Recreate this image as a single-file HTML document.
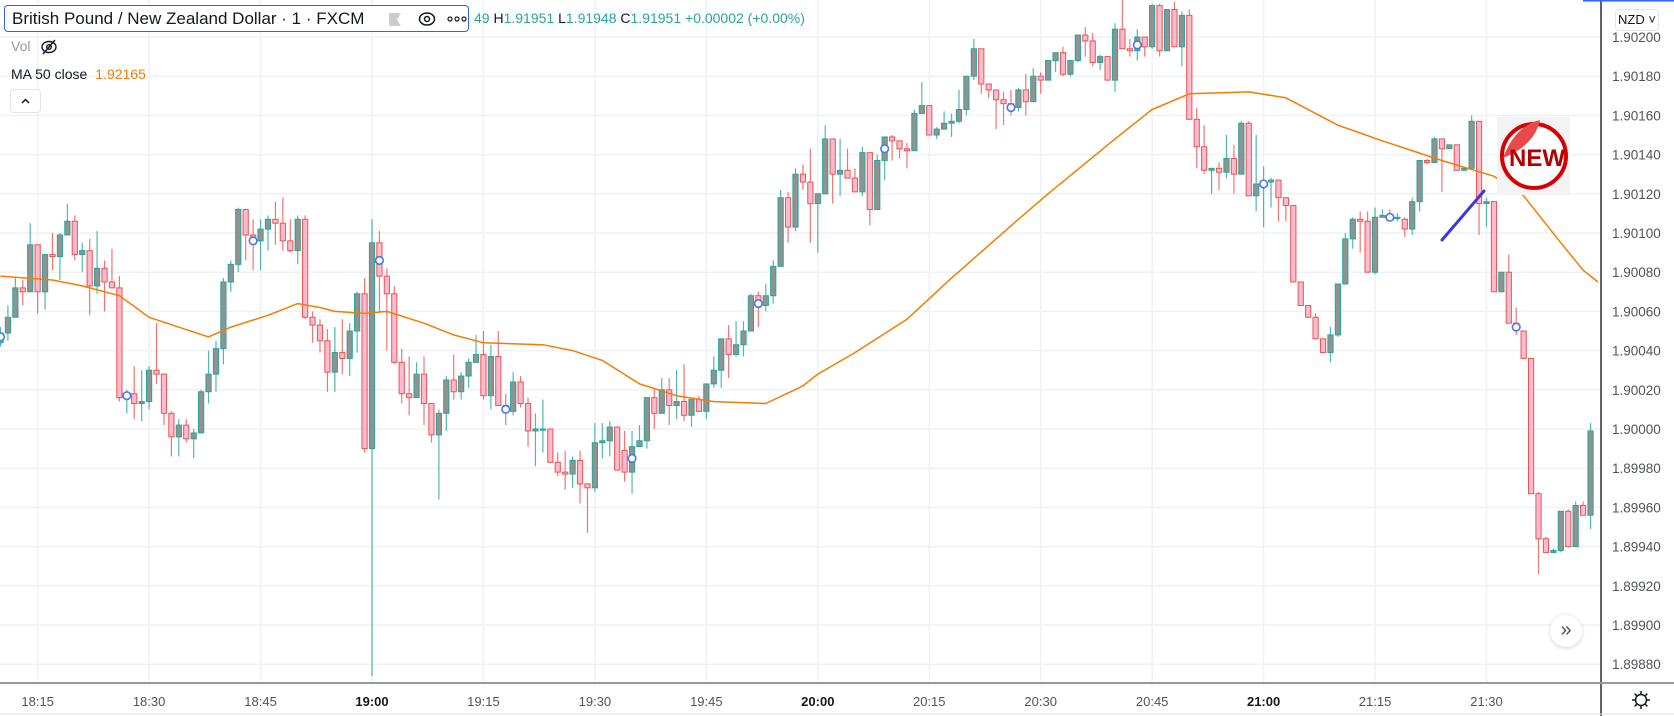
<!DOCTYPE html>
<html><head><meta charset="utf-8">
<style>
html,body{margin:0;padding:0;background:#fff;}
#root{position:relative;width:1674px;height:716px;overflow:hidden;font-family:"Liberation Sans",sans-serif;background:#fff;}
#chart{position:absolute;left:0;top:0;}
.legend-box{position:absolute;left:4px;top:5px;width:465px;height:27px;border:1px solid #2962ff;border-radius:4px;background:#fff;box-sizing:border-box;}
.title{position:absolute;left:7px;top:3px;font-size:17px;color:#131722;white-space:nowrap;}
.ohlc{position:absolute;left:474px;top:10px;font-size:14px;color:#26a69a;white-space:nowrap;}
.ohlc b{font-weight:normal;color:#131722;}
.vol{position:absolute;left:11px;top:38px;font-size:14px;color:#9598a1;}
.ma{position:absolute;left:11px;top:66px;font-size:14px;color:#131722;white-space:nowrap;}
.ma span{color:#f57c00;margin-left:8px;}
.collapse{position:absolute;left:10px;top:89px;width:31px;height:24px;border:1px solid #e0e3eb;border-radius:4px;box-sizing:border-box;background:#fff;}
.nzd{position:absolute;left:1615px;top:9px;width:44px;height:22px;border:1px solid #e0e3eb;border-radius:4px;box-sizing:border-box;font-size:13px;color:#131722;text-align:center;line-height:20px;background:#fff;}
.more{position:absolute;left:1550px;top:615px;width:32px;height:32px;border-radius:50%;background:#fff;box-shadow:0 1px 4px rgba(0,0,0,0.18);font-size:20px;color:#50535e;text-align:center;line-height:30px;}
</style></head>
<body>
<div id="root">
<svg id="chart" width="1674" height="716"></svg>

<div class="legend-box">
  <div class="title">British Pound / New Zealand Dollar · 1 · FXCM</div>
  <svg style="position:absolute;left:384px;top:7px" width="12" height="13"><path d="M0 0H12L8 6.5L12 13H0Z" fill="#c9cbd1"/></svg>
  <svg style="position:absolute;left:413px;top:5px" width="18" height="16"><ellipse cx="9" cy="8" rx="7.5" ry="6" fill="none" stroke="#131722" stroke-width="1.5"/><circle cx="9" cy="8" r="2.5" fill="none" stroke="#131722" stroke-width="1.5"/></svg>
  <svg style="position:absolute;left:442px;top:9px" width="20" height="8"><circle cx="3" cy="4" r="2" fill="none" stroke="#131722" stroke-width="1.2"/><circle cx="10" cy="4" r="2" fill="none" stroke="#131722" stroke-width="1.2"/><circle cx="17" cy="4" r="2" fill="none" stroke="#131722" stroke-width="1.2"/></svg>
</div>
<div class="ohlc">49 <b>H</b>1.91951 <b>L</b>1.91948 <b>C</b>1.91951 +0.00002 (+0.00%)</div>
<div class="vol">Vol</div>
<svg style="position:absolute;left:40px;top:38px" width="18" height="18"><ellipse cx="9" cy="9" rx="7" ry="5.5" fill="none" stroke="#131722" stroke-width="1.4"/><circle cx="9" cy="9" r="2.3" fill="none" stroke="#131722" stroke-width="1.4"/><line x1="3" y1="16" x2="15" y2="2" stroke="#131722" stroke-width="1.4"/></svg>
<div class="ma">MA 50 close<span>1.92165</span></div>
<div class="collapse"><svg width="29" height="22"><path d="M11 13L14.5 9.5L18 13" fill="none" stroke="#131722" stroke-width="1.5"/></svg></div>
<div class="nzd">NZD ˅</div>
<div class="more">»</div>
<svg style="position:absolute;left:1631px;top:690px" width="20" height="20"><circle cx="10" cy="10" r="5.5" fill="none" stroke="#131722" stroke-width="1.5"/><g stroke="#131722" stroke-width="1.5"><line x1="10" y1="1" x2="10" y2="4"/><line x1="10" y1="16" x2="10" y2="19"/><line x1="1" y1="10" x2="4" y2="10"/><line x1="16" y1="10" x2="19" y2="10"/><line x1="3.6" y1="3.6" x2="5.7" y2="5.7"/><line x1="14.3" y1="14.3" x2="16.4" y2="16.4"/><line x1="3.6" y1="16.4" x2="5.7" y2="14.3"/><line x1="14.3" y1="5.7" x2="16.4" y2="3.6"/></g></svg>
</div>

<script>
// Prices in units of 0.00001 (e.g. 190044 = 1.90044)
const opens=[190044,190049,190057,190072,190070,190094,190070,190089,190088,190099,190106,190089,190091,190073,190082,190075,190072,190016,190018,190013,190014,190030,190028,190008,189996,190002,189995,189998,190019,190028,190041,190075,190084,190112,190099,190096,190102,190107,190105,190096,190091,190107,190057,190053,190045,190029,190039,190036,190050,190069,189990,190095,190078,190069,190034,190018,190016,190028,190013,189997,190008,190025,190019,190027,190034,190038,190017,190037,190012,190009,190024,190013,189999,190000,190000,189983,189978,189977,189984,189972,189970,189993,189994,190001,189989,189978,189991,189994,190016,190008,190020,190012,190014,190007,190015,190009,190023,190030,190046,190038,190043,190050,190068,190063,190068,190083,190118,190103,190130,190126,190115,190120,190148,190130,190132,190128,190121,190141,190112,190137,190149,190147,190143,190142,190161,190165,190150,190153,190156,190157,190163,190180,190194,190176,190173,190168,190166,190164,190173,190167,190180,190178,190188,190192,190181,190188,190201,190198,190187,190190,190178,190204,190194,190193,190200,190195,190216,190193,190214,190195,190211,190158,190144,190132,190133,190131,190138,190130,190156,190119,190125,190126,190127,190118,190114,190075,190063,190057,190046,190039,190048,190074,190097,190107,190106,190080,190108,190109,190108,190107,190102,190116,190137,190136,190148,190143,190145,190132,190133,190157,190115,190116,190070,190080,190054,190050,190036,189967,189944,189937,189938,189958,189940,189961,189956];
const highs=[190052,190063,190077,190076,190105,190094,190089,190100,190100,190115,190109,190095,190097,190101,190086,190092,190078,190020,190032,190030,190032,190054,190028,190009,190005,190005,190000,190020,190040,190045,190077,190086,190113,190112,190107,190107,190109,190116,190118,190107,190109,190109,190060,190056,190051,190052,190056,190054,190070,190077,190107,190101,190082,190073,190041,190037,190034,190037,190013,190010,190027,190038,190029,190036,190048,190050,190043,190050,190018,190029,190027,190016,190008,190015,190000,189988,189989,189986,189989,189972,190003,190003,190004,190001,189999,189999,190002,190016,190020,190026,190026,190030,190033,190015,190017,190023,190037,190046,190053,190055,190055,190069,190070,190074,190086,190122,190121,190133,190135,190143,190120,190155,190148,190148,190143,190133,190144,190141,190140,190149,190150,190147,190146,190163,190177,190165,190154,190162,190161,190173,190180,190199,190194,190176,190173,190172,190173,190174,190181,190184,190182,190188,190192,190195,190188,190201,190205,190202,190191,190190,190207,190219,190199,190204,190200,190217,190217,190214,190218,190213,190214,190164,190155,190133,190136,190150,190145,190157,190157,190150,190134,190128,190127,190118,190114,190075,190063,190059,190046,190052,190074,190100,190108,190111,190111,190113,190112,190112,190110,190108,190118,190137,190138,190149,190148,190145,190145,190133,190160,190157,190118,190116,190080,190089,190062,190050,190036,189968,189945,189939,189958,189959,189963,189963,190003];
const lows=[190042,190045,190057,190063,190070,190059,190061,190081,190076,190099,190086,190080,190058,190069,190060,190072,190014,190008,190005,190004,190010,190023,190002,189986,189986,189993,189985,189998,190013,190019,190033,190070,190080,190086,190081,190081,190091,190094,190091,190090,190084,190056,190044,190039,190019,190019,190028,190027,190039,189988,189874,190060,190040,190033,190013,190007,190016,190002,189993,189964,189999,190015,190015,190021,190034,190015,190010,190012,190002,190007,190011,189991,189981,189988,189983,189976,189969,189970,189962,189947,189968,189985,189986,189979,189973,189967,189991,189990,190000,190008,190002,190005,190004,190001,190009,190005,190021,190021,190026,190037,190037,190050,190052,190060,190064,190083,190095,190101,190122,190095,190090,190120,190115,190119,190128,190121,190119,190104,190112,190127,190137,190138,190133,190142,190161,190150,190148,190153,190149,190156,190160,190178,190171,190169,190153,190155,190160,190162,190160,190167,190171,190178,190182,190180,190180,190187,190190,190185,190183,190178,190172,190194,190190,190188,190190,190194,190190,190193,190195,190185,190158,190133,190130,190120,190122,190128,190120,190130,190119,190111,190103,190113,190106,190106,190075,190063,190057,190046,190039,190034,190047,190074,190092,190090,190080,190079,190108,190106,190106,190098,190099,190111,190135,190136,190121,190143,190132,190132,190132,190099,190103,190070,190070,190054,190048,190036,189967,189926,189937,189937,189937,189940,189940,189956,189949];
const closes=[190049,190057,190072,190070,190094,190070,190089,190088,190099,190106,190089,190091,190073,190082,190075,190072,190016,190017,190013,190014,190030,190028,190008,189996,190002,189995,189998,190019,190028,190041,190075,190084,190112,190099,190096,190102,190107,190105,190096,190091,190107,190057,190053,190045,190029,190039,190036,190050,190069,189990,190095,190078,190069,190034,190018,190016,190028,190013,189997,190008,190025,190019,190027,190034,190038,190017,190037,190012,190009,190024,190013,189999,190000,190000,189983,189978,189977,189984,189972,189970,189993,189994,190001,189979,189978,189991,189994,190016,190008,190020,190012,190014,190007,190015,190009,190023,190030,190046,190038,190043,190050,190068,190063,190068,190083,190118,190103,190130,190126,190115,190120,190148,190130,190132,190128,190121,190141,190112,190137,190149,190147,190143,190142,190161,190165,190150,190153,190156,190157,190163,190180,190194,190176,190173,190168,190166,190164,190173,190167,190180,190178,190188,190192,190181,190188,190201,190198,190187,190190,190178,190204,190194,190193,190200,190195,190216,190193,190214,190195,190211,190158,190144,190132,190133,190131,190138,190130,190156,190119,190125,190126,190127,190118,190114,190075,190063,190057,190046,190039,190048,190074,190097,190107,190106,190080,190108,190109,190108,190108,190102,190116,190137,190136,190148,190143,190145,190132,190133,190157,190115,190116,190070,190080,190054,190052,190036,189967,189944,189937,189938,189958,189940,189961,189956,189999];
// 50-period moving average (sampled by bar index)
const maIndex=[0,7,11,16,20,28,31,36,40,43,45,49,52,57,61,65,73,77,81,86,91,96,103,108,110,115,122,128,137,141,150,155,160,168,173,180,183,186,194,201,205,210,213,215];
const maValues=[190078,190076,190073,190068,190057,190047,190052,190058,190064,190062,190060,190059,190060,190054,190048,190044,190043,190040,190035,190023,190017,190014,190013,190022,190028,190039,190056,190077,190107,190120,190148,190163,190171,190172,190169,190155,190151,190147,190137,190129,190119,190095,190081,190075];
// blue hollow marker points
const markerIndex=[0,17,34,51,68,85,102,119,136,153,170,187,204];
const markerValues=[190047,190017,190096,190086,190010,189985,190064,190143,190164,190196,190125,190108,190052];
// axis ticks
const priceTicks=[190200,190180,190160,190140,190120,190100,190080,190060,190040,190020,190000,189980,189960,189940,189920,189900,189880];
const timeTickIndex=[5,20,35,50,65,80,95,110,125,140,155,170,185,200];
const timeTickLabels=["18:15","18:30","18:45","19:00","19:15","19:30","19:45","20:00","20:15","20:30","20:45","21:00","21:15","21:30"];
const timeTickBold=[false,false,false,true,false,false,false,true,false,false,false,true,false,false];

const NS="http://www.w3.org/2000/svg";
const svg=document.getElementById('chart');
const PLOT_R=1601, PLOT_B=683;
function xScale(i){return i*7.43+0.5;}
function yScale(p){return 37+(190200-p)*1.96;}
function mk(tag,attrs,parent){const e=document.createElementNS(NS,tag);for(const k in attrs)e.setAttribute(k,attrs[k]);(parent||svg).appendChild(e);return e;}

// grid
const grid=mk('g',{});


priceTicks.forEach(p=>{const l=mk('line',{x1:0,x2:PLOT_R,y1:yScale(p),y2:yScale(p),stroke:'#eef1f6','stroke-width':1.5},grid);

});
timeTickIndex.forEach(i=>{const l=mk('line',{x1:xScale(i),x2:xScale(i),y1:0,y2:PLOT_B,stroke:'#eef1f6','stroke-width':1.5},grid);

});

// candles
const cg=mk('g',{});


for(let i=0;i<closes.length;i++){
  const o=opens[i],c=closes[i],h=highs[i],l=lows[i];
  const up=c>=o;
  const x=xScale(i);
  const g=mk('g',{},cg);
  
  
  mk('line',{x1:x,x2:x,y1:yScale(h),y2:yScale(l),stroke:up?'#26a69a':'#ef5350','stroke-width':1.2,'stroke-opacity':0.8},g);
  const top=yScale(Math.max(o,c)),bot=yScale(Math.min(o,c));
  mk('rect',{x:x-2.6,y:top,width:5.2,height:Math.max(bot-top,1.2),fill:up?'#929292':'#f8bbd0',stroke:up?'#26a69a':'#ef5350','stroke-width':1},g);
}

// moving average
let pts=maIndex.map((k,j)=>xScale(k).toFixed(1)+','+yScale(maValues[j]).toFixed(1)).join(' ');
const ma=mk('polyline',{points:pts,fill:'none',stroke:'#f57c00','stroke-width':1.5,'stroke-linejoin':'round'});



// markers
markerIndex.forEach((k,j)=>{const c=mk('circle',{cx:xScale(k),cy:yScale(markerValues[j]),r:3.8,fill:'#fff',stroke:'#4a78f0','stroke-width':1.6});

});

// drawn trend line
const tl=mk('line',{x1:1442,y1:240,x2:1484,y2:191,stroke:'#3b3bd4','stroke-width':3,'stroke-linecap':'round'});



// NEW sticker
const st=mk('g',{});


mk('rect',{x:1497,y:117,width:73,height:78,fill:'#f3f3f3'},st);
mk('circle',{cx:1534,cy:156,r:32,fill:'#fff',stroke:'#d60000','stroke-width':4},st);
mk('path',{d:'M1503 158 Q1515 126 1540 120 Q1535 145 1503 158Z',fill:'#e84a4a'},st);
const nt=mk('text',{x:1537,y:166,'font-size':24,'font-weight':'bold','font-family':'Liberation Sans, sans-serif',fill:'#b30000','text-anchor':'middle'},st);
nt.textContent='NEW';

// axes
mk('rect',{x:PLOT_R,y:0,width:73,height:716,fill:'#fff'});
mk('rect',{x:0,y:PLOT_B,width:1674,height:33,fill:'#fff'});
const ax1=mk('line',{x1:PLOT_R,x2:PLOT_R,y1:0,y2:716,stroke:'#2a2e39','stroke-width':1.5});


const ax2=mk('line',{x1:0,x2:1674,y1:PLOT_B,y2:PLOT_B,stroke:'#9598a1','stroke-width':2});


mk('line',{x1:0,x2:1674,y1:714,y2:714,stroke:'#e0e3eb','stroke-width':1});
mk('line',{x1:1583,x2:1674,y1:0.5,y2:0.5,stroke:'#2962ff','stroke-width':2});

const pa=mk('g',{});


priceTicks.forEach(p=>{const t=mk('text',{x:1612,y:yScale(p)+5,'font-size':13.5,'font-family':'Liberation Sans, sans-serif',fill:'#50535e'},pa);


t.textContent=(p/100000).toFixed(5);});

const ta=mk('g',{});


timeTickIndex.forEach((k,j)=>{const t=mk('text',{x:xScale(k),y:706,'font-size':13,'font-family':'Liberation Sans, sans-serif',fill:timeTickBold[j]?'#131722':'#50535e','font-weight':timeTickBold[j]?'bold':'normal','text-anchor':'middle'},ta);


t.textContent=timeTickLabels[j];});
</script>
</body></html>
